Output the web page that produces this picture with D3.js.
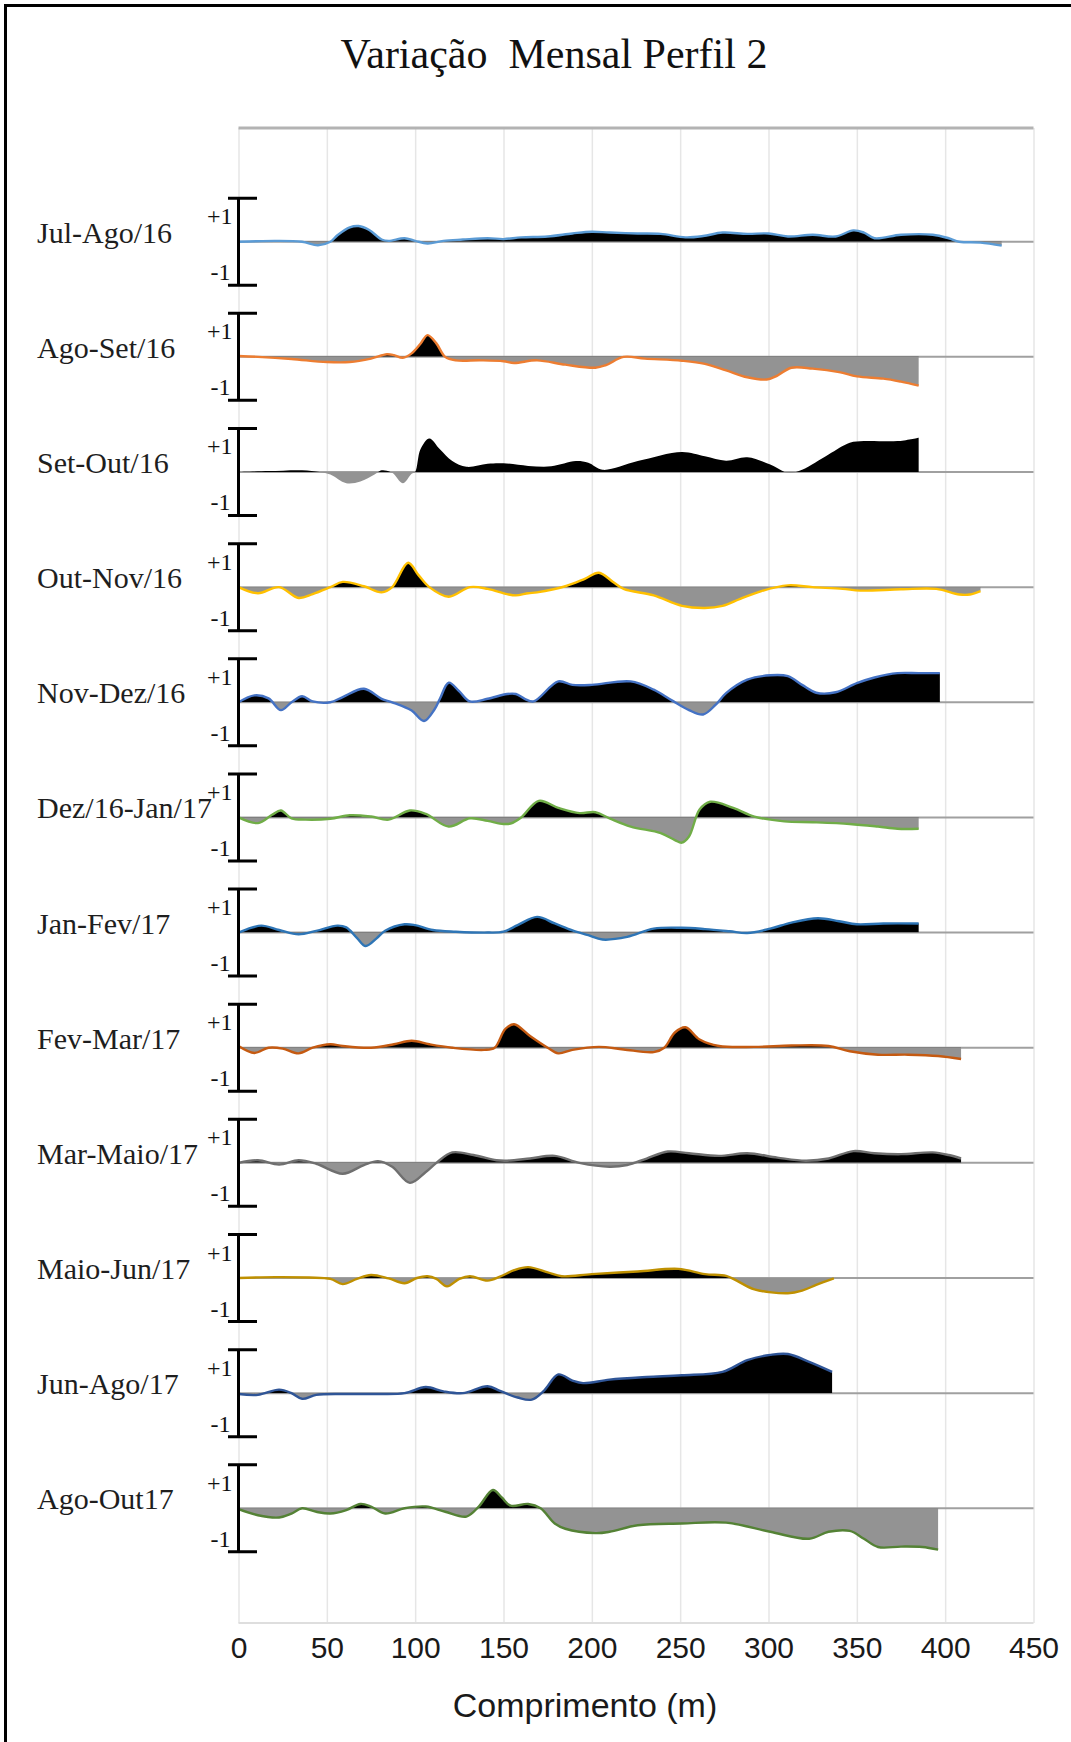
<!DOCTYPE html>
<html><head><meta charset="utf-8">
<script src="https://cdn.jsdelivr.net/npm/d3@7"></script>
<style>body{margin:0;background:#fff}svg{display:block}</style>
</head><body><svg id="chart" width="1071" height="1742"></svg>
<script>
// ---------- data ----------
const chartTitle = "Variação  Mensal Perfil 2";
const xAxisTitle = "Comprimento (m)";
const periods = ["Jul-Ago/16","Ago-Set/16","Set-Out/16","Out-Nov/16","Nov-Dez/16","Dez/16-Jan/17",
  "Jan-Fev/17","Fev-Mar/17","Mar-Maio/17","Maio-Jun/17","Jun-Ago/17","Ago-Out17"];
const seriesColors = ["#5B9BD5","#ED7D31","none","#FFC000","#4472C4","#70AD47",
  "#2E75B6","#C55A11","#6f6f6f","#BF9000","#2F5597","#548235"];
const xTicks = [0,50,100,150,200,250,300,350,400,450];
const scaleLabels = ["+1","-1"];

// [distance (m), variation]
const julAgo16 = [[0,0],[10,0.01],[21,0.02],[36,0],[45,-0.08],[52,0],[56,0.15],[63,0.33],[68,0.36],[74,0.27],[81,0.05],[85,0.02],[94,0.08],[100,0.02],[107,-0.04],[116,0.02],[127,0.05],[141,0.08],[150,0.06],[160,0.1],[175,0.12],[189,0.19],[200,0.23],[210,0.21],[226,0.19],[239,0.18],[253,0.1],[263,0.13],[274,0.21],[288,0.18],[300,0.19],[311,0.12],[325,0.16],[338,0.12],[348,0.26],[354,0.21],[360,0.08],[375,0.16],[393,0.16],[402,0.08],[408,0],[420,-0.02],[432,-0.09]];
const agoSet16 = [[0,0.02],[11,0],[30,-0.05],[50,-0.12],[63,-0.12],[75,-0.04],[84,0.06],[88,0.04],[93,-0.02],[98,0.08],[103,0.3],[107,0.5],[112,0.31],[117,0],[123,-0.08],[137,-0.08],[150,-0.1],[156,-0.14],[169,-0.08],[185,-0.18],[202,-0.25],[208,-0.19],[218,0],[230,-0.04],[251,-0.09],[264,-0.16],[276,-0.31],[288,-0.47],[299,-0.52],[305,-0.43],[313,-0.25],[325,-0.27],[340,-0.35],[350,-0.45],[365,-0.5],[375,-0.57],[385,-0.66]];
const setOut16 = [[0,0],[17,0.02],[36,0.04],[46,0],[52,-0.06],[61,-0.26],[69,-0.22],[77,-0.06],[81,0.04],[87,-0.02],[93,-0.26],[98,-0.04],[100,0],[103,0.52],[108,0.77],[114,0.52],[121,0.25],[129,0.12],[141,0.19],[150,0.2],[164,0.14],[177,0.13],[191,0.25],[198,0.21],[206,0.05],[226,0.25],[251,0.46],[264,0.36],[276,0.26],[288,0.34],[301,0.17],[311,-0.02],[319,0.05],[334,0.4],[346,0.67],[354,0.71],[373,0.71],[385,0.79]];
const outNov16 = [[0,0],[11,-0.14],[23,0],[34,-0.25],[42,-0.16],[52,0],[59,0.12],[71,0.02],[81,-0.12],[87,0],[96,0.56],[102,0.27],[108,0],[119,-0.22],[131,0],[141,-0.04],[152,-0.16],[157,-0.19],[164,-0.14],[169,-0.12],[185,0.02],[196,0.19],[204,0.33],[212,0.12],[218,-0.04],[235,-0.19],[251,-0.43],[264,-0.48],[274,-0.43],[284,-0.27],[296,-0.09],[311,0.04],[325,0],[342,-0.04],[352,-0.08],[375,-0.05],[395,-0.04],[408,-0.17],[414,-0.17],[420,-0.09]];
const novDez16 = [[0,0],[9,0.16],[17,0.09],[24,-0.18],[30,0],[36,0.14],[42,0.02],[52,0],[59,0.12],[71,0.31],[81,0.08],[87,0],[98,-0.19],[105,-0.43],[111,-0.16],[114,0.08],[119,0.45],[125,0.25],[131,0.02],[141,0.08],[152,0.19],[157,0.19],[162,0.08],[167,0.02],[181,0.48],[189,0.4],[200,0.4],[222,0.48],[235,0.29],[245,0.05],[255,-0.18],[263,-0.28],[270,-0.06],[276,0.21],[288,0.52],[301,0.62],[311,0.6],[319,0.4],[327,0.22],[338,0.23],[350,0.44],[360,0.57],[373,0.67],[385,0.67],[397,0.67]];
const dez16Jan17 = [[0,0],[11,-0.13],[19,0.06],[24,0.16],[30,-0.02],[38,-0.05],[52,-0.03],[63,0.05],[75,0.02],[85,-0.05],[97,0.16],[106,0.08],[119,-0.21],[131,-0.02],[141,-0.08],[150,-0.15],[154,-0.14],[160,0],[170,0.38],[181,0.22],[193,0.1],[202,0.12],[210,-0.02],[222,-0.21],[239,-0.36],[247,-0.52],[251,-0.58],[255,-0.44],[261,0.18],[267,0.36],[280,0.22],[292,0.02],[309,-0.09],[325,-0.11],[346,-0.15],[362,-0.21],[373,-0.26],[385,-0.26]];
const janFev17 = [[0,0],[5,0.08],[13,0.16],[23,0.06],[34,-0.04],[44,0.04],[56,0.16],[61,0.12],[67,-0.12],[72,-0.31],[78,-0.14],[83,0.04],[94,0.19],[100,0.17],[110,0.06],[123,0.02],[141,0],[150,0.02],[158,0.17],[169,0.36],[179,0.21],[189,0.05],[198,-0.06],[206,-0.16],[220,-0.1],[235,0.09],[251,0.11],[264,0.08],[278,0.03],[288,-0.01],[301,0.09],[313,0.23],[328,0.33],[340,0.26],[350,0.19],[365,0.21],[385,0.21]];
const fevMar17 = [[0,0.04],[9,-0.12],[17,0],[25,-0.02],[34,-0.13],[42,0],[52,0.08],[59,0.04],[75,0],[88,0.08],[98,0.16],[108,0.08],[121,0],[139,-0.05],[145,0],[151,0.43],[156,0.54],[165,0.27],[175,0],[181,-0.13],[189,-0.05],[204,0.02],[218,-0.04],[235,-0.1],[241,0],[247,0.35],[253,0.47],[261,0.19],[272,0.04],[292,0.02],[313,0.05],[334,0.04],[346,-0.08],[362,-0.16],[379,-0.16],[396,-0.19],[409,-0.26]];
const marMaio17 = [[0,0],[11,0.06],[23,-0.04],[34,0.06],[44,-0.02],[59,-0.25],[71,-0.05],[79,0.04],[87,-0.09],[97,-0.46],[106,-0.21],[112,0],[121,0.24],[133,0.18],[146,0.06],[152,0.05],[165,0.1],[179,0.16],[193,0],[210,-0.09],[220,-0.05],[231,0.1],[243,0.26],[255,0.22],[272,0.16],[288,0.22],[305,0.12],[321,0.05],[334,0.1],[348,0.27],[360,0.22],[375,0.2],[393,0.24],[402,0.18],[409,0.1]];
const maioJun17 = [[0,0],[21,0.02],[40,0.01],[52,-0.02],[59,-0.14],[67,-0.02],[75,0.07],[85,-0.01],[94,-0.12],[101,0],[107,0.04],[112,-0.02],[118,-0.19],[125,-0.02],[131,0.04],[141,-0.06],[148,0.03],[156,0.18],[164,0.25],[175,0.13],[183,0.04],[200,0.09],[226,0.15],[249,0.21],[264,0.09],[276,0.05],[282,-0.06],[292,-0.26],[311,-0.35],[319,-0.29],[327,-0.16],[337,-0.01]];
const junAgo17 = [[0,-0.02],[11,-0.04],[23,0.08],[30,0],[36,-0.13],[44,-0.04],[59,-0.02],[79,-0.02],[94,0],[106,0.14],[116,0.04],[127,0],[141,0.16],[148,0.05],[158,-0.1],[166,-0.15],[173,0.06],[181,0.43],[189,0.29],[195,0.23],[210,0.31],[231,0.37],[251,0.41],[274,0.49],[288,0.76],[301,0.88],[311,0.9],[323,0.72],[336,0.49]];
const agoOut17 = [[0,-0.02],[11,-0.16],[23,-0.21],[30,-0.12],[36,0],[44,-0.08],[52,-0.12],[61,-0.04],[69,0.1],[75,0.04],[83,-0.12],[94,0],[106,0.04],[117,-0.08],[129,-0.19],[136,0.04],[144,0.42],[149,0.25],[154,0.06],[164,0.1],[171,0],[179,-0.35],[185,-0.47],[202,-0.57],[210,-0.54],[226,-0.39],[251,-0.35],[276,-0.33],[301,-0.54],[323,-0.7],[334,-0.54],[346,-0.52],[354,-0.7],[362,-0.89],[375,-0.88],[387,-0.89],[396,-0.95]];
const seriesData = [julAgo16,agoSet16,setOut16,outNov16,novDez16,dez16Jan17,janFev17,fevMar17,marMaio17,maioJun17,junAgo17,agoOut17];

// ---------- layout ----------
const W = 1071, H = 1742;
const plotTop = 128, plotBottom = 1623;
const svg = d3.select("#chart");
const x = d3.scaleLinear().domain([0,450]).range([238.5,1033.5]);
const row = d3.scalePoint().domain(periods).range([241.7,1508.3]);
const halfH = 43.5;
const serif = "'Liberation Serif','Times New Roman',serif";
const sans = "'Liberation Sans',Arial,sans-serif";

svg.append("rect").attr("width",W).attr("height",H).attr("fill","#fff");

// frame
svg.append("path").attr("d",`M5.5,${H} L5.5,5.5 L${W},5.5`).attr("fill","none").attr("stroke","#000").attr("stroke-width",3);

// title
svg.append("text").attr("x",554).attr("y",68).attr("text-anchor","middle")
  .style("white-space","pre")
  .attr("font-family",serif).attr("font-size",42).attr("fill","#111").text(chartTitle);

// x axis with gridlines
const axis = svg.append("g").attr("transform",`translate(0,${plotBottom})`)
  .call(d3.axisBottom(x).tickValues(xTicks).tickSize(-(plotBottom-plotTop)).tickPadding(14).tickFormat(d3.format("d")));
axis.select(".domain").remove();
axis.selectAll(".tick line").attr("stroke","#e6e6e6").attr("stroke-width",1.5);
axis.selectAll(".tick text").attr("font-family",sans).attr("font-size",30).attr("fill","#1a1a1a");
svg.append("line").attr("x1",x(0)).attr("x2",x(450)).attr("y1",plotTop).attr("y2",plotTop)
  .attr("stroke","#b3b3b3").attr("stroke-width",3);
svg.append("line").attr("x1",x(0)).attr("x2",x(450)).attr("y1",plotBottom).attr("y2",plotBottom)
  .attr("stroke","#dedede").attr("stroke-width",2);
svg.append("text").attr("x",585).attr("y",1717).attr("text-anchor","middle")
  .attr("font-family",sans).attr("font-size",34).attr("fill","#1a1a1a").text(xAxisTitle);

const defs = svg.append("defs");

periods.forEach((p,i)=>{
  const y0 = row(p);
  const y = d3.scaleLinear().domain([-1,1]).range([y0+halfH,y0-halfH]);
  const data = seriesData[i];
  const g = svg.append("g");

  defs.append("clipPath").attr("id",`up${i}`).append("rect")
    .attr("x",0).attr("width",W).attr("y",y(1.5)).attr("height",y(0)-y(1.5));
  defs.append("clipPath").attr("id",`dn${i}`).append("rect")
    .attr("x",0).attr("width",W).attr("y",y(0)).attr("height",y(-1.5)-y(0));

  const curve = d3.curveCatmullRom.alpha(0.5);
  const area = d3.area().x(d=>x(d[0])).y0(y(0)).y1(d=>y(d[1])).curve(curve);
  const line = d3.line().x(d=>x(d[0])).y(d=>y(d[1])).curve(curve);

  // baseline
  g.append("line").attr("x1",x(0)).attr("x2",x(450)).attr("y1",y(0)).attr("y2",y(0))
    .attr("stroke","#a0a0a0").attr("stroke-width",2);
  g.append("path").datum(data).attr("d",area).attr("fill","#000").attr("clip-path",`url(#up${i})`);
  g.append("path").datum(data).attr("d",area).attr("fill","#939393").attr("clip-path",`url(#dn${i})`);
  g.append("path").datum(data).attr("d",line).attr("fill","none")
    .attr("stroke",seriesColors[i]).attr("stroke-width",2.4).attr("stroke-linejoin","round");

  // scale bracket
  const bx = x(0);
  g.append("path").attr("d",`M${bx},${y(1)} L${bx},${y(-1)} M${bx-10.5},${y(1)} L${bx+18.5},${y(1)} M${bx-10.5},${y(-1)} L${bx+18.5},${y(-1)}`)
    .attr("stroke","#000").attr("stroke-width",3).attr("fill","none");
  g.append("text").attr("x",bx-6).attr("y",y(1)+26).attr("text-anchor","end")
    .attr("font-family",serif).attr("font-size",24).attr("fill","#111").text(scaleLabels[0]);
  g.append("text").attr("x",bx-8).attr("y",y(-1)-5).attr("text-anchor","end")
    .attr("font-family",serif).attr("font-size",24).attr("fill","#111").text(scaleLabels[1]);

  // row label
  g.append("text").attr("x",37).attr("y",y0+1).attr("font-family",serif).attr("font-size",30)
    .attr("fill","#1e1e1e").text(p);
});
</script></body></html>
